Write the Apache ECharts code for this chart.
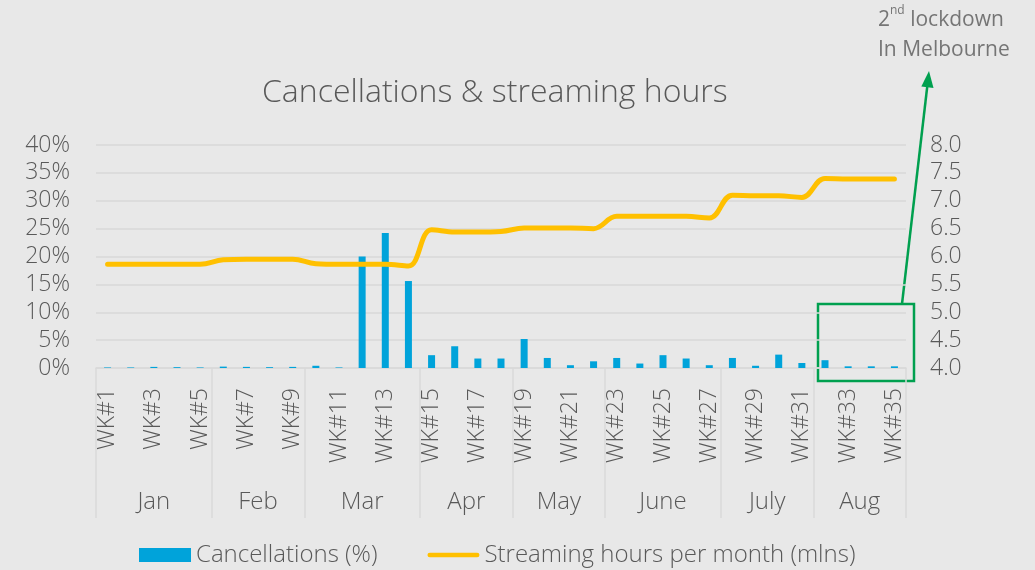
<!DOCTYPE html>
<html>
<head>
<meta charset="utf-8">
<script src="https://cdn.jsdelivr.net/npm/echarts@6/dist/echarts.min.js"></script>
<style>
  html, body { margin: 0; padding: 0; background: #e8e8e8; }
  #chart { width: 1035px; height: 570px; }
</style>
</head>
<body>
<div id="chart"></div>
<script>
// week categories
const weeks = [];
for (let i = 1; i <= 35; i++) weeks.push('WK#' + i);

const months = ['Jan', 'Feb', 'Mar', 'Apr', 'May', 'June', 'July', 'Aug'];
const weeksPerMonth = [5, 4, 5, 4, 4, 5, 4, 4];

// cancellations, % per week
const cancellations = [
  0.1, 0.1, 0.2, 0.15, 0.1, 0.25, 0.2, 0.15, 0.2, 0.4, 0.1,
  20.0, 24.2, 15.6,
  2.3, 3.9, 1.7, 1.7,
  5.2, 1.8, 0.5, 1.2,
  1.8, 0.8, 2.3, 1.7, 0.5,
  1.8, 0.4, 2.4, 0.9,
  1.4, 0.3, 0.3, 0.3
];

// streaming hours per month (mlns), per week
const streaming = [
  5.86, 5.86, 5.86, 5.86, 5.86,
  5.94, 5.95, 5.95, 5.95,
  5.87, 5.86, 5.86, 5.86, 5.83,
  6.48, 6.44, 6.44, 6.45,
  6.51, 6.51, 6.51, 6.50,
  6.72, 6.72, 6.72, 6.72, 6.69,
  7.10, 7.09, 7.09, 7.06,
  7.40, 7.39, 7.39, 7.39
];

// month boundaries and centres on a 0..35 week scale
const monthEdges = [0];
const monthMids = [];
weeksPerMonth.forEach(n => {
  const start = monthEdges[monthEdges.length - 1];
  monthMids.push(start + n / 2);
  monthEdges.push(start + n);
});

const textColor = '#595959';
const gridColor = '#d9d9d9';
const font = 'Open Sans';

const chart = echarts.init(document.getElementById('chart'));
const option = {
  backgroundColor: '#e8e8e8',
  textStyle: { fontFamily: font },
  animation: false,
  title: {
    text: 'Cancellations & streaming hours',
    left: 257,
    top: 72,
    textStyle: { fontFamily: font, fontSize: 32, fontWeight: 300, color: textColor }
  },
  legend: {
    top: 538,
    left: 134,
    itemWidth: 52,
    itemHeight: 14,
    itemGap: 50,
    textStyle: { fontFamily: font, fontSize: 24, fontWeight: 300, color: textColor },
    data: [
      { name: 'Cancellations (%)', icon: 'rect' },
      { name: 'Streaming hours per month (mlns)', icon: 'path://M2.5,0H53.5A2.5,2.5,0,0,1,53.5,5H2.5A2.5,2.5,0,0,1,2.5,0Z' }
    ]
  },
  grid: { left: 96, right: 129, top: 145, bottom: 202 },
  xAxis: [{
    type: 'category',
    data: weeks,
    axisLine: { lineStyle: { color: gridColor, width: 1.5 } },
    axisTick: { show: false },
    axisLabel: {
      interval: 1,
      rotate: 90,
      margin: 20,
      fontSize: 23,
      fontWeight: 300,
      color: textColor
    }
  }, {
    type: 'value',
    position: 'bottom',
    min: 0,
    max: 35,
    axisLine: { show: false },
    splitLine: { show: false },
    axisTick: {
      show: true,
      customValues: monthEdges,
      length: 150,
      lineStyle: { color: gridColor, width: 1.5 }
    },
    axisLabel: {
      customValues: monthMids,
      margin: 122,
      fontSize: 24,
      fontWeight: 300,
      color: textColor,
      formatter: v => {
        const i = monthMids.findIndex(m => Math.abs(m - v) < 0.01);
        return i >= 0 ? months[i] : '';
      }
    }
  }],
  yAxis: [{
    type: 'value',
    min: 0,
    max: 40,
    interval: 5,
    axisLine: { show: false },
    axisTick: { show: false },
    splitLine: { lineStyle: { color: gridColor, width: 1.5 } },
    axisLabel: { formatter: '{value}%', margin: 26, fontSize: 23, fontWeight: 300, color: textColor }
  }, {
    type: 'value',
    min: 4,
    max: 8,
    interval: 0.5,
    axisLine: { show: false },
    axisTick: { show: false },
    splitLine: { show: false },
    axisLabel: { formatter: v => v.toFixed(1), margin: 24, fontSize: 23, fontWeight: 300, color: textColor }
  }],
  series: [{
    name: 'Cancellations (%)',
    type: 'bar',
    data: cancellations,
    barWidth: 7,
    itemStyle: { color: '#00a3da' }
  }, {
    name: 'Streaming hours per month (mlns)',
    type: 'line',
    yAxisIndex: 1,
    data: streaming,
    smooth: 0.4,
    symbol: 'none',
    itemStyle: { color: '#ffc000' },
    lineStyle: { color: '#ffc000', width: 5, cap: 'round' }
  }],
  graphic: [{
    type: 'rect',
    shape: { x: 818, y: 304, width: 96, height: 77 },
    style: { fill: 'none', stroke: '#00a04f', lineWidth: 2.5 }
  }, {
    type: 'line',
    shape: { x1: 902, y1: 304, x2: 927.3, y2: 86 },
    style: { stroke: '#00a04f', lineWidth: 2.5 }
  }, {
    type: 'polygon',
    shape: { points: [[929, 71], [933.5, 88], [921.3, 86.5]] },
    style: { fill: '#00a04f' }
  }, {
    type: 'text',
    left: 878,
    top: 5,
    style: {
      text: '{a|2}{s|nd}{a| lockdown}\n{a|In Melbourne}',
      rich: {
        a: { fontFamily: font, fontSize: 21, fill: '#757575', lineHeight: 30 },
        s: { fontFamily: font, fontSize: 12, fill: '#757575', lineHeight: 30, verticalAlign: 'top', padding: [0, 0, 9, 0] }
      }
    }
  }]
};
chart.setOption(option);
</script>
</body>
</html>
